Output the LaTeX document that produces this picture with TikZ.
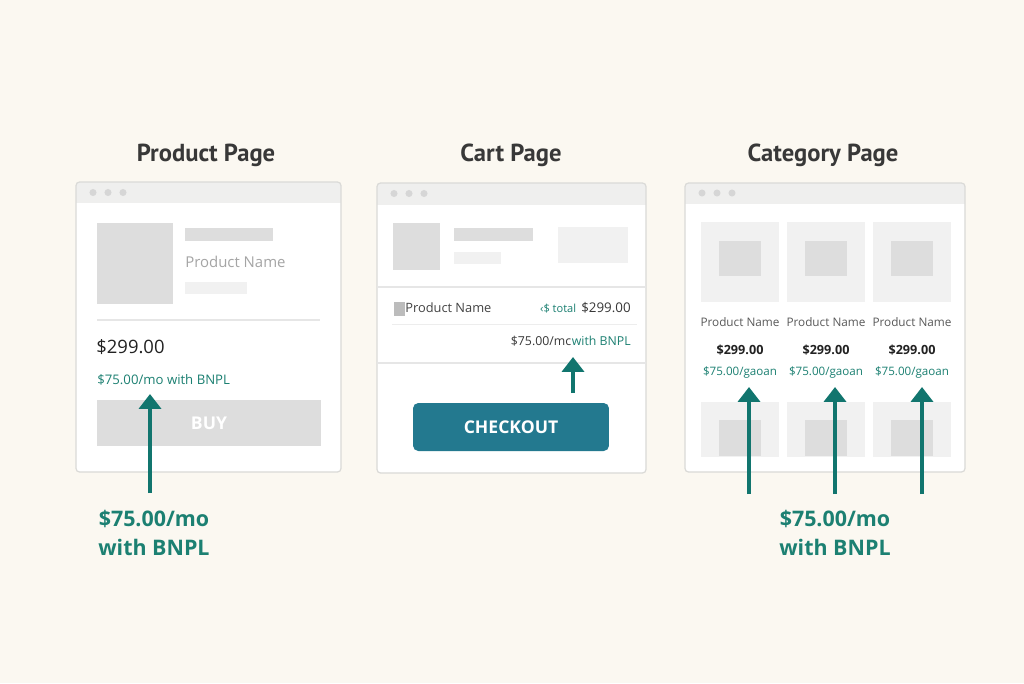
\documentclass[tikz,border=0pt]{standalone}
\usepackage{fontspec}
\setmainfont{Open Sans}
\newfontfamily\titlefont{PT Sans}
\usetikzlibrary{arrows.meta, positioning}
\definecolor{bgcream}{RGB}{251,248,241}
\definecolor{framegray}{RGB}{218,218,215}
\definecolor{barbg}{RGB}{239,239,238}
\definecolor{dotgray}{RGB}{214,214,214}
\definecolor{boxgray}{RGB}{221,221,221}
\definecolor{lightbox}{RGB}{241,241,241}
\definecolor{linegray}{RGB}{230,230,230}
\definecolor{bnplteal}{RGB}{28,128,114}
\definecolor{arrowteal}{RGB}{17,117,110}
\definecolor{checkoutblue}{RGB}{35,121,143}
\definecolor{textdark}{RGB}{34,34,34}
\definecolor{textgray}{RGB}{165,165,165}

\begin{document}
\begin{tikzpicture}[
    x=0.02cm, y=-0.02cm,
    pagetitle/.style={font=\titlefont\bfseries\fontsize{14}{16}\selectfont, text=textdark!90},
    panel/.style={draw=framegray, line width=0.7pt, rounded corners=2pt},
    txt/.style={inner sep=0pt, font=\fontsize{#1}{#1}\selectfont},
    bnplarrow/.style={draw=arrowteal, line width=2.3pt, -{Triangle[width=12.5pt,length=8.5pt]}},
    caption/.style={align=center, text=bnplteal, font=\bfseries\fontsize{12.2}{16.5}\selectfont},
    button/.style={inner sep=0pt, text=white, font=\bfseries\fontsize{10}{10}\selectfont}
]
    \useasboundingbox[fill=bgcream] (0,0) rectangle (1024,683);

    % Product page
    \node[pagetitle] (tprod) at (206,155) {Product Page};
    \fill[white, rounded corners=2pt] (76,182) rectangle (341,472);
    \begin{scope}
        \clip[rounded corners=2pt] (76,182) rectangle (341,472);
        \fill[barbg] (76,182) rectangle (341,203);
    \end{scope}
    \foreach \x in {93,108,123} \fill[dotgray] (\x,192.5) circle (2pt);
    \draw[panel] (76,182) rectangle (341,472);
    \fill[boxgray] (97,223) rectangle (173,304);
    \fill[boxgray] (185,228) rectangle (273,241);
    \fill[lightbox] (185,282) rectangle (247,294);
    \node[txt=8.5, text=textgray, anchor=west] (pname) at (185,262) {Product Name};
    \draw[linegray, line width=0.6pt] (97,320) -- (320,320);
    \node[txt=10.5, text=textdark, anchor=west] (pprice) at (96,347) {\$299.00};
    \node[txt=7.5, text=bnplteal, anchor=west] (pbnpl) at (97,380) {\$75.00/mo with BNPL};
    \node[button, fill=boxgray, minimum width=4.48cm, minimum height=0.92cm] (buy) at (209,423) {BUY};
    \coordinate (ptail) at (150,493);
    \coordinate (phead) at (150,394);
    \draw[bnplarrow] (ptail) -- (phead);
    \node[caption] (pcap) at (154,533) {\$75.00/mo\\with BNPL};

    % Cart page
    \node[pagetitle] (tcart) at (511,155) {Cart Page};
    \fill[white, rounded corners=2pt] (377,183) rectangle (646,473);
    \begin{scope}
        \clip[rounded corners=2pt] (377,183) rectangle (646,473);
        \fill[barbg] (377,183) rectangle (646,205);
    \end{scope}
    \foreach \x in {394,409,424} \fill[dotgray] (\x,193.5) circle (2pt);
    \draw[panel] (377,183) rectangle (646,473);
    \fill[boxgray] (393,223) rectangle (440,270);
    \fill[boxgray] (454,228) rectangle (533,241);
    \fill[lightbox] (454,252) rectangle (501,264);
    \fill[lightbox] (558,227) rectangle (628,263);
    \draw[linegray, line width=0.6pt] (377,287) -- (646,287);
    \fill[boxgray!85!black] (394,302) rectangle (405,316);
    \node[txt=7.3, text=textdark!85, anchor=west] (cname) at (405,308) {Product Name};
    \node[txt=7.6, text=textdark!90, anchor=base east] (cprice) at (631,312) {\$299.00};
    \node[txt=6.3, text=bnplteal, anchor=base east] (ctotal) at ([xshift=-2.5pt]cprice.base west) {‹\$ total};
    \draw[linegray!70, line width=0.5pt] (392,324) -- (637,324);
    \node[txt=7, text=bnplteal, anchor=base east] (cbnpl) at (631,345) {with BNPL};
    \node[txt=7, text=textdark!90, anchor=base east] (cmo) at (cbnpl.base west) {\$75.00/mc};
    \draw[linegray, line width=0.6pt] (377,363) -- (646,363);
    \coordinate (ctail) at (573,393);
    \coordinate (chead) at (573,357);
    \draw[bnplarrow] (ctail) -- (chead);
    \node[button, fill=checkoutblue, rounded corners=3pt, minimum width=3.92cm,
          minimum height=0.96cm] (checkout) at (511,427) {CHECKOUT};

    % Category page
    \node[pagetitle] (tcat) at (823,155) {Category Page};
    \fill[white, rounded corners=2pt] (685,183) rectangle (965,472);
    \begin{scope}
        \clip[rounded corners=2pt] (685,183) rectangle (965,472);
        \fill[barbg] (685,183) rectangle (965,204);
    \end{scope}
    \foreach \x in {702,717,732} \fill[dotgray] (\x,193) circle (2pt);
    \foreach \cx/\i in {740/1,826/2,912/3} {
        \fill[lightbox] (\cx-39,222) rectangle (\cx+39,302);
        \fill[boxgray] (\cx-21,241) rectangle (\cx+21,276);
        \fill[lightbox] (\cx-39,402) rectangle (\cx+39,457);
        \fill[boxgray] (\cx-21,420) rectangle (\cx+21,456);
        \node[txt=6.7, text=textdark!75] (catname\i) at (\cx,322) {Product Name};
        \node[txt=7.2, text=textdark] (catprice\i) at (\cx,350) {\bfseries\$299.00};
        \node[txt=6.6, text=bnplteal] (catbnpl\i) at (\cx,372) {\$75.00/gaoan};
    }
    \draw[panel] (685,183) rectangle (965,472);
    \foreach \ax/\i in {749/1,835/2,922/3} {
        \coordinate (kTail\i) at (\ax,494);
        \coordinate (kHead\i) at (\ax,387);
        \draw[bnplarrow] (kTail\i) -- (kHead\i);
    }
    \node[caption] (kcap) at (835,533) {\$75.00/mo\\with BNPL};
\end{tikzpicture}
\end{document}
